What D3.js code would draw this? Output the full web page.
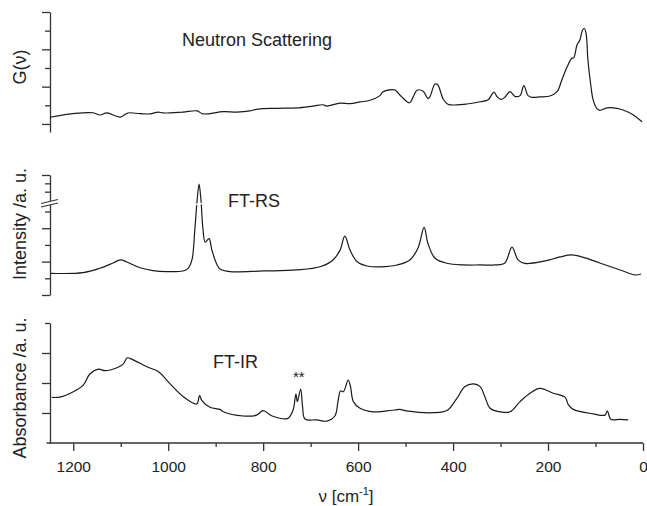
<!DOCTYPE html>
<html>
<head>
<meta charset="utf-8">
<script src="https://cdn.jsdelivr.net/npm/d3@7"></script>
<style>
  body { margin: 0; background: #fff; }
  svg { font-family: "Liberation Sans", Arial, sans-serif; }
  .axis path, .axis line { stroke: #333; stroke-width: 1.3; }
  .curve { fill: none; stroke: #1a1a1a; stroke-width: 1.2; stroke-linejoin: round; }
  text { fill: #222; }
</style>
</head>
<body>
<div id="container"></div>
<script>
// wavenumbers (cm-1) and intensities (arbitrary units)
var neutronWn = [1249, 1196, 1158, 1144, 1129, 1101, 1085, 1059, 1038, 1021,
  1011, 969, 939, 927, 884, 855, 828, 811, 771, 729,
  695, 674, 666, 638, 617, 596, 575, 554, 548, 529,
  522, 512, 497, 491, 484, 476, 463, 453, 449, 438,
  432, 421, 411, 392, 371, 343, 326, 314, 307, 299,
  291, 280, 270, 259, 251, 242, 234, 217, 196, 181,
  171, 160, 150, 146, 139, 133, 128, 124, 120, 116,
  110, 105, 97, 91, 76, 55, 42, 21, 2]
var neutronVal = [0.36, 0.57, 0.60, 0.48, 0.59, 0.37, 0.59, 0.55, 0.54, 0.64,
  0.59, 0.64, 0.70, 0.54, 0.66, 0.64, 0.70, 0.80, 0.84, 0.86,
  0.96, 1.03, 0.96, 1.12, 1.09, 1.18, 1.27, 1.52, 1.71, 1.84,
  1.82, 1.55, 1.19, 1.14, 1.45, 1.81, 1.75, 1.36, 1.45, 2.14,
  2.09, 1.34, 1.06, 1.02, 1.07, 1.19, 1.30, 1.71, 1.45, 1.32,
  1.43, 1.73, 1.48, 1.52, 2.05, 1.52, 1.43, 1.45, 1.50, 1.73,
  2.36, 3.05, 3.52, 3.54, 4.23, 4.50, 4.98, 5.13, 4.87, 3.43,
  2.09, 1.29, 0.82, 0.73, 0.86, 0.84, 0.75, 0.50, 0.12]

var ramanWn = [1249, 1179, 1144, 1116, 1101, 1087, 1059, 1032, 1003, 969,
  958, 950, 944, 939, 935, 931, 927, 922, 914, 908,
  897, 891, 870, 800, 729, 680, 653, 638, 628, 617,
  602, 581, 554, 518, 491, 474, 461, 453, 438, 413,
  379, 343, 312, 291, 276, 263, 249, 206, 175, 150,
  122, 91, 48, 17, 4]
var ramanVal = [1.30, 1.34, 1.60, 1.92, 2.10, 1.98, 1.63, 1.46, 1.40, 1.44,
  1.60, 2.10, 3.89, 5.69, 6.65, 5.69, 4.01, 3.17, 3.38, 2.69,
  1.80, 1.56, 1.40, 1.44, 1.50, 1.69, 2.10, 2.69, 3.53, 2.69,
  1.99, 1.74, 1.69, 1.80, 2.10, 2.80, 4.05, 3.10, 2.20, 1.90,
  1.80, 1.80, 1.80, 1.92, 2.87, 2.10, 1.89, 2.04, 2.28, 2.40,
  2.22, 1.92, 1.50, 1.20, 1.26]

var irWn = [1245, 1228, 1200, 1179, 1165, 1147, 1133, 1108, 1095, 1086,
  1074, 1045, 1021, 996, 968, 940, 934, 929, 912, 891,
  884, 842, 814, 800, 781, 748, 737, 731, 728, 721,
  717, 712, 687, 666, 649, 642, 637, 631, 621, 616,
  610, 596, 568, 540, 522, 512, 498, 442, 413, 392,
  375, 357, 343, 333, 322, 301, 280, 259, 238, 217,
  189, 164, 157, 147, 105, 80, 75, 68, 48, 31]
var irVal = [0.52, 0.53, 0.71, 0.93, 1.30, 1.46, 1.41, 1.51, 1.63, 1.84,
  1.77, 1.54, 1.38, 0.97, 0.54, 0.30, 0.58, 0.41, 0.19, 0.12,
  0.04, -0.10, -0.07, 0.08, -0.10, -0.18, 0.10, 0.63, 0.38, 0.80,
  0.21, -0.20, -0.23, -0.27, -0.10, 0.43, 0.74, 0.71, 1.10, 0.88,
  0.38, 0.16, 0.04, 0.07, 0.10, 0.12, 0.07, 0.01, 0.08, 0.49,
  0.88, 0.97, 0.88, 0.54, 0.16, 0.04, 0.04, 0.38, 0.66, 0.82,
  0.66, 0.52, 0.27, 0.12, -0.03, -0.07, 0.07, -0.21, -0.21, -0.23]

var xMajorTicks = [1200, 1000, 800, 600, 400, 200, 0]
var xMinorTicks = [1100, 900, 700, 500, 300, 100]

var width = 647
var height = 506

var svg = d3.select('#container').append('svg')
  .attr('width', width)
  .attr('height', height)

var x = d3.scaleLinear().domain([1250, 0]).range([49.5, 643])

// one panel per spectrum, stacked
var panels = [
  { wn: neutronWn, val: neutronVal, domain: [-0.43, 6], range: [132, 12],
    major: [0, 2, 4, 6], minor: [1, 3, 5], title: 'G(\u03bd)', titleY: 67,
    label: 'Neutron Scattering', lx: 182, ly: 46 },
  { wn: ramanWn, val: ramanVal, domain: [0, 7.19], range: [295, 175],
    major: [0, 2, 4, 7.19], minor: [1, 3, 5, 6.19, 6.69], title: 'Intensity /a. u.', titleY: 224,
    label: 'FT-RS', lx: 228, ly: 207 },
  { wn: irWn, val: irVal, domain: [-1, 3], range: [443, 323],
    major: [0, 1, 2], minor: [3], title: 'Absorbance /a. u.', titleY: 388,
    label: 'FT-IR', lx: 213, ly: 368 }
]

panels.forEach(function (p) {
  var y = d3.scaleLinear().domain(p.domain).range(p.range)
  p.y = y

  svg.append('g')
    .attr('class', 'axis')
    .attr('transform', 'translate(50,0)')
    .call(d3.axisLeft(y).tickValues(p.major).tickSize(8).tickSizeOuter(0).tickFormat(''))

  var minor = svg.append('g')
    .attr('class', 'axis')
    .attr('transform', 'translate(50,0)')
    .call(d3.axisLeft(y).tickValues(p.minor).tickSize(5).tickSizeOuter(0).tickFormat(''))
  minor.select('.domain').remove()

  var line = d3.line()
    .x(function (d, i) { return x(p.wn[i]) })
    .y(function (d) { return y(d) })
    .curve(d3.curveCatmullRom.alpha(0.5))

  svg.append('path')
    .attr('class', 'curve')
    .attr('d', line(p.val))

  svg.append('text')
    .attr('transform', 'translate(26,' + p.titleY + ') rotate(-90)')
    .attr('text-anchor', 'middle')
    .style('font-size', '18px')
    .text(p.title)

  svg.append('text')
    .attr('x', p.lx)
    .attr('y', p.ly)
    .style('font-size', '18px')
    .text(p.label)
})

// axis break on the Raman panel, also cutting the 935 peak
var brk = panels[1].y(5.45)
svg.append('polygon')
  .attr('points', [[41, brk + 3], [58, brk - 1], [58, brk - 4.5], [41, brk - 0.5]].join(' '))
  .style('fill', '#fff')
svg.append('line')
  .attr('x1', 41).attr('y1', brk + 3).attr('x2', 58).attr('y2', brk - 1)
  .style('stroke', '#333').style('stroke-width', 1.2)
svg.append('line')
  .attr('x1', 41).attr('y1', brk - 0.5).attr('x2', 58).attr('y2', brk - 4.5)
  .style('stroke', '#333').style('stroke-width', 1.2)
svg.append('line')
  .attr('x1', x(950)).attr('y1', brk + 1).attr('x2', x(920)).attr('y2', brk - 1)
  .style('stroke', '#fff').style('stroke-width', 1.6)

// x axis
var xAxisY = 443
var xMajor = svg.append('g')
  .attr('class', 'axis')
  .attr('transform', 'translate(0,' + xAxisY + ')')
  .call(d3.axisBottom(x).tickValues(xMajorTicks).tickSize(8).tickSizeOuter(0)
    .tickPadding(10).tickFormat(d3.format('d')))
xMajor.select('.domain').remove()
xMajor.selectAll('text').style('font-size', '15.5px').style('fill', '#222')

var xMinor = svg.append('g')
  .attr('class', 'axis')
  .attr('transform', 'translate(0,' + xAxisY + ')')
  .call(d3.axisBottom(x).tickValues(xMinorTicks).tickSize(4).tickFormat(''))
xMinor.select('.domain').remove()

svg.append('line')
  .attr('x1', 46.5).attr('x2', x(0))
  .attr('y1', xAxisY).attr('y2', xAxisY)
  .style('stroke', '#333').style('stroke-width', 1.3)

var xTitle = svg.append('text')
  .attr('x', 346)
  .attr('y', 502)
  .attr('text-anchor', 'middle')
  .style('font-size', '17px')
xTitle.append('tspan').text('\u03bd [cm')
xTitle.append('tspan').attr('dy', -7).style('font-size', '11px').text('-1')
xTitle.append('tspan').attr('dy', 7).text(']')

// band markers on the IR spectrum
svg.append('text')
  .attr('x', 293)
  .attr('y', 382)
  .style('font-size', '15px')
  .text('**')
</script>
</body>
</html>
